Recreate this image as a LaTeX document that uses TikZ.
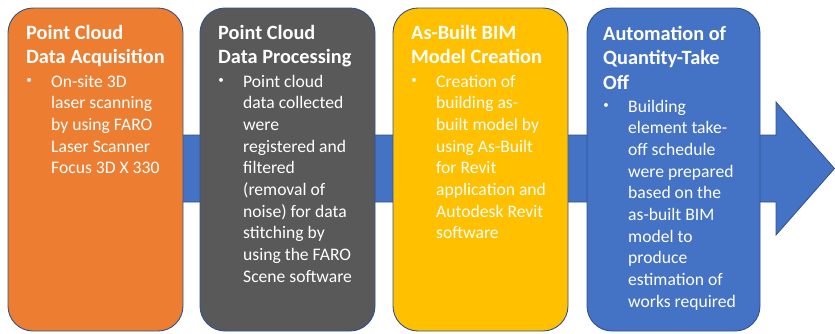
\documentclass[tikz,border=0pt]{standalone}
\usepackage{fontspec}
\setmainfont{Carlito}
\definecolor{flowblue}{HTML}{4472C4}
\definecolor{edgeblue}{HTML}{2F528F}
\definecolor{stageorange}{HTML}{ED7D31}
\definecolor{stagegray}{HTML}{595959}
\definecolor{stageyellow}{HTML}{FFC000}
\begin{document}
\begin{tikzpicture}[x=1pt,y=-1pt,
  stagebox/.style={draw=edgeblue,line width=0.9pt,rounded corners=25pt},
  % multi-line nodes are placed by the baseline of their last line
  stagetitle/.style={anchor=base west,inner sep=0pt,align=left,text=white,
    font=\fontsize{20.3}{24.6}\selectfont\bfseries},
  stagebody/.style={anchor=base west,inner sep=0pt,align=left,text=white,
    font=\fontsize{17.6}{21.7}\selectfont},
  bulletmark/.style={anchor=center,inner sep=0pt,text=white,
    font=\fontsize{11}{12}\selectfont}]
\useasboundingbox (0,0) rectangle (835,333);

% process arrow running behind the four stages
\draw[fill=flowblue,draw=edgeblue,line width=0.8pt]
  (20,135) -- (776,135) -- (776,102) -- (834.5,168.5) -- (776,235) -- (776,202) -- (20,202) -- cycle;

% stage boxes
\filldraw[stagebox,fill=stageorange] (8,8) rectangle (183,331);
\filldraw[stagebox,fill=stagegray] (200,8) rectangle (375,331);
\filldraw[stagebox,fill=stageyellow] (393,8) rectangle (568,331);
\filldraw[stagebox,fill=flowblue] (587,8) rectangle (760,331);

% stage 1
\node[stagetitle] (t1) at (26,63.6) {Point Cloud\\Data Acquisition};
\node[bulletmark] (m1) at (29,81) {\textbullet};
\node[stagebody] (b1) at (51,173.8) {On-site 3D\\laser scanning\\by using FARO\\Laser Scanner\\Focus 3D X 330};

% stage 2
\node[stagetitle] (t2) at (218,63.6) {Point Cloud\\Data Processing};
\node[bulletmark] (m2) at (221,81) {\textbullet};
\node[stagebody] (b2) at (243,282.3) {Point cloud\\data collected\\were\\registered and\\filtered\\(removal of\\noise) for data\\stitching by\\using the FARO\\Scene software};

% stage 3
\node[stagetitle] (t3) at (411,63.6) {As-Built BIM\\Model Creation};
\node[bulletmark] (m3) at (414,81) {\textbullet};
\node[stagebody] (b3) at (436,238.9) {Creation of\\building as-\\built model by\\using As-Built\\for Revit\\application and\\Autodesk Revit\\software};

% stage 4
\node[stagetitle] (t4) at (603,89.2) {Automation of\\Quantity-Take\\Off};
\node[bulletmark] (m4) at (606,106) {\textbullet};
\node[stagebody] (b4) at (628,307.3) {Building\\element take-\\off schedule\\were prepared\\based on the\\as-built BIM\\model to\\produce\\estimation of\\works required};
\end{tikzpicture}
\end{document}
